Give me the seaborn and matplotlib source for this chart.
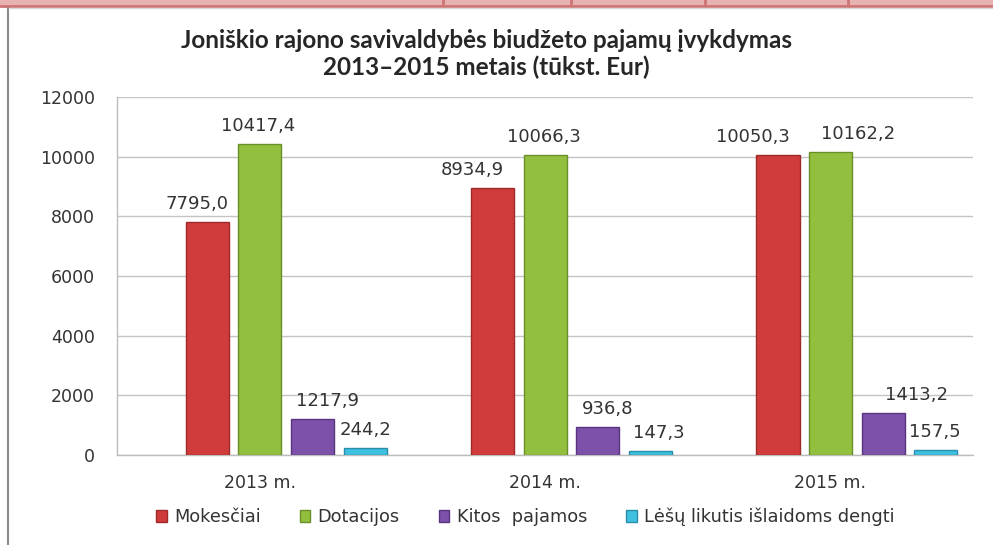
import pandas as pd
import matplotlib.pyplot as plt
import seaborn as sns
from matplotlib.patches import Patch, Rectangle
from matplotlib.lines import Line2D

# data (tukst. Eur)
years = ['2013 m.', '2014 m.', '2015 m.']
categories = ['Mokesčiai', 'Dotacijos', 'Kitos  pajamos', 'Lėšų likutis išlaidoms dengti']
mokesciai = [7795.0, 8934.9, 10050.3]
dotacijos = [10417.4, 10066.3, 10162.2]
kitos = [1217.9, 936.8, 1413.2]
likutis = [244.2, 147.3, 157.5]

colors = ['#D03C3B', '#92C03E', '#7D50AA', '#3EC0E0']
edges = ['#9E2A2A', '#6A8F2A', '#58357E', '#2A8EAA']

df = pd.DataFrame({
    'year': years * 4,
    'category': [c for c in categories for _ in years],
    'value': mokesciai + dotacijos + kitos + likutis,
})

sns.set_style('white')
plt.rcParams['font.family'] = ['DejaVu Sans']

fig = plt.figure(figsize=(9.93, 5.45), dpi=100)
ax = fig.add_axes([117 / 993, 1 - 455 / 545, (973 - 117) / 993, (455 - 97) / 545])

sns.barplot(data=df, x='year', y='value', hue='category', hue_order=categories,
            palette=colors, saturation=1, width=0.737, gap=0.18, legend=False,
            ax=ax, zorder=3)

for cont, ec in zip(ax.containers, edges):
    for bar in cont:
        bar.set_edgecolor(ec)
        bar.set_linewidth(1.0)

# label offsets in pixels (placement as in the original)
label_dx = [[-10, -20, -25], [-2, -1, 27], [15, 10, 33], [0, 8, -1]]
for cont, dxs in zip(ax.containers, label_dx):
    for bar, dx in zip(cont, dxs):
        v = bar.get_height()
        ax.annotate(f'{v:.1f}'.replace('.', ','),
                    (bar.get_x() + bar.get_width() / 2, v),
                    xytext=(dx, 18), textcoords='offset pixels',
                    ha='center', va='center', fontsize=13, color='#333333')

ax.set_ylim(0, 12000)
ax.set_yticks(range(0, 12001, 2000))
ax.set_yticklabels([str(t) for t in range(0, 12001, 2000)])
ax.set_xlim(-0.593, 2.407)
ax.set_xticks([i - 0.093 for i in range(3)])
ax.set_xticklabels(years)
ax.set_xlabel('')
ax.set_ylabel('')
ax.tick_params(axis='y', length=0, pad=16, labelsize=12.5, labelcolor='#333333')
ax.tick_params(axis='x', length=0, pad=14, labelsize=12.5, labelcolor='#333333')
ax.yaxis.grid(True, color='#C4C4C4', linewidth=1.0, zorder=0)
ax.set_axisbelow(True)
for s in ['top', 'right']:
    ax.spines[s].set_visible(False)
for s in ['left', 'bottom']:
    ax.spines[s].set_color('#BDBDBD')
    ax.spines[s].set_linewidth(1.0)

title_font = ['Lato', 'DejaVu Sans']
fig.text(0.49, 1 - 41 / 545, 'Joniškio rajono savivaldybės biudžeto pajamų įvykdymas',
         ha='center', va='center', fontsize=17.5, fontweight='bold', family=title_font)
fig.text(0.49, 1 - 67 / 545, '2013–2015 metais (tūkst. Eur)',
         ha='center', va='center', fontsize=17.5, fontweight='bold', family=title_font)

handles = [Patch(facecolor=c, edgecolor=e) for c, e in zip(colors, edges)]
fig.legend(handles, categories, loc='center', bbox_to_anchor=(0.529, 1 - 517 / 545),
           ncol=4, frameon=False, fontsize=12.8, handlelength=0.6, handleheight=0.6,
           handletextpad=0.4, columnspacing=2.2, labelcolor='#333333')

# page decoration: table strip on top and frame line on the left
fig.add_artist(Rectangle((0, 1 - 6 / 545), 1, 6 / 545, transform=fig.transFigure,
                         facecolor='#E8B2B2', edgecolor='none'))
fig.add_artist(Line2D([0, 1], [1 - 6 / 545, 1 - 6 / 545], transform=fig.transFigure,
                      color='#CF7474', linewidth=2))
for xp in [443, 571, 705, 848]:
    fig.add_artist(Line2D([xp / 993, xp / 993], [1 - 6 / 545, 1], transform=fig.transFigure,
                          color='#CF7474', linewidth=2))
fig.add_artist(Line2D([0.01, 1], [1 - 8 / 545, 1 - 8 / 545], transform=fig.transFigure,
                      color='#D9D9D9', linewidth=1))
fig.add_artist(Line2D([8 / 993, 8 / 993], [0, 1 - 8 / 545], transform=fig.transFigure,
                      color='#8A8A8A', linewidth=1.5))

fig.savefig('out.png', dpi=100)
